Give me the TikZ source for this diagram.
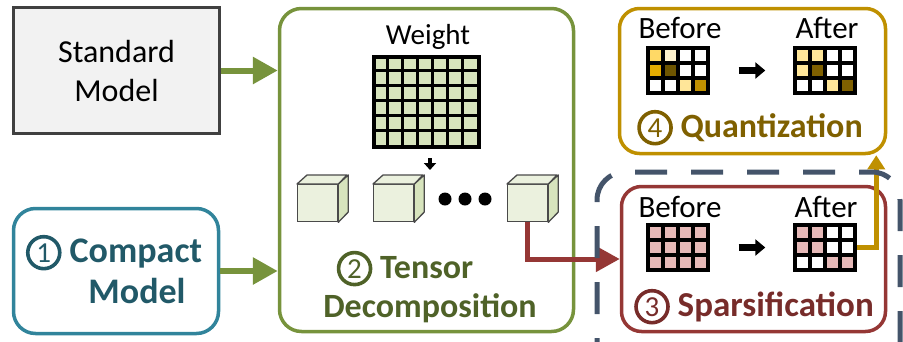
\documentclass[tikz,border=0pt]{standalone}
\usepackage{fontspec}
\setmainfont{Carlito}
\usetikzlibrary{arrows.meta,calc}

% palette
\definecolor{stdfill}{HTML}{F2F2F2}
\definecolor{stdline}{HTML}{404040}
\definecolor{grn}{HTML}{77933C}
\definecolor{grnd}{HTML}{4F6228}
\definecolor{wfill}{HTML}{D7E4BD}
\definecolor{cfront}{HTML}{EBF1DE}
\definecolor{cline}{HTML}{4A4A4A}
\definecolor{teal}{HTML}{31849B}
\definecolor{teald}{HTML}{215968}
\definecolor{gold}{HTML}{BF9000}
\definecolor{goldd}{HTML}{7F6000}
\definecolor{brick}{HTML}{953735}
\definecolor{brickd}{HTML}{772C2A}
\definecolor{navy}{HTML}{44546A}
\definecolor{pnk}{HTML}{E6B9B8}
\definecolor{qa}{HTML}{FFD966}
\definecolor{qb}{HTML}{FFF2CC}
\definecolor{qc}{HTML}{FFE699}
\definecolor{qd}{HTML}{E5AC00}
\definecolor{qe}{HTML}{6E5500}
\definecolor{qf}{HTML}{BF9000}
\definecolor{qg}{HTML}{7F6000}

% circled step number
\newcommand\cnum[2]{\tikz[baseline=(cn#2.base)]\node[circle,draw=#1,line width=3.6pt,
  inner sep=0pt,minimum size=32pt,anchor=center,text=#1,
  font=\mdseries\fontsize{29}{29}\selectfont] (cn#2) {#2};}

% 4x3 matrix of coloured cells, 15pt cells, top-left corner at (#2,#3)
\newcommand\cellgrid[4]{%
  \foreach \c [count=\k from 0] in {#4} {
    \pgfmathtruncatemacro\cx{mod(\k,4)}
    \pgfmathtruncatemacro\cy{div(\k,4)}
    \fill[\c] (#2+\cx*15,#3+\cy*15) rectangle ++(15,15);
  }
  \foreach \i in {1,2,3} \draw[gline] (#2+\i*15,#3) -- ++(0,45);
  \foreach \j in {1,2} \draw[gline] (#2,#3+\j*15) -- ++(60,0);
  \node[draw,line width=3.4pt,minimum width=60pt,minimum height=45pt,inner sep=0pt]
    (#1) at (#2+30,#3+22.5) {};
}

\begin{document}
\begin{tikzpicture}[x=1pt,y=-1pt,
  gline/.style={line width=3.4pt,black},
  txt/.style={anchor=base,inner sep=0pt},
  regtxt/.style={txt,font=\fontsize{31}{37}\selectfont},
  boldtxt/.style={txt,font=\bfseries\fontsize{34}{40}\selectfont},
  panel/.style={draw,line width=3.5pt,rounded corners=22pt,inner sep=0pt},
  garrow/.style={grn,line width=6pt,-{Triangle[length=25pt,width=26pt]}},
  barrow/.style={black,line width=6.5pt,-{Triangle[length=10pt,width=16pt]}},
  frontface/.style={draw=cline,line width=1.3pt,fill=cfront,minimum width=40pt,
    minimum height=37pt,inner sep=0pt,anchor=north west},
  cubeline/.style={draw=cline,line width=1.3pt,line join=round}]
\useasboundingbox (0,0) rectangle (903,341);
\clip (0,0) rectangle (903,341);

% ---------- left column ----------
\node[draw=stdline,line width=3.5pt,fill=stdfill,minimum width=206pt,minimum height=126pt,
  align=center,font=\fontsize{32}{39}\selectfont] (std) at (116.5,70.5) {Standard\\Model};

\node[panel,draw=teal,minimum width=205pt,minimum height=125pt] (cmp) at (116,271) {};
\node[boldtxt,text=teald,font=\bfseries\fontsize{36}{42}\selectfont] (cmpa) at (114,262) {\cnum{teald}{1} Compact};
\node[boldtxt,text=teald,font=\bfseries\fontsize{36}{42}\selectfont] (cmpb) at (137,303) {Model};

% ---------- tensor decomposition ----------
\node[panel,draw=grn,minimum width=294pt,minimum height=323pt] (ten) at (426.5,170) {};
\node[regtxt,font=\fontsize{29}{35}\selectfont] (wtxt) at (428,44) {Weight};
\node[draw,line width=3.4pt,fill=wfill,minimum width=105pt,minimum height=90pt,inner sep=0pt]
  (wg) at (426.5,102) {};
\foreach \i in {1,...,6} \draw[gline] ($(wg.north west)+(\i*15,0)$) -- ++(0,90);
\foreach \j in {1,...,5} \draw[gline] ($(wg.north west)+(0,\j*15)$) -- ++(105,0);
\coordinate (wa1) at (430,158);
\coordinate (wa2) at (430,170);
\draw[black,line width=4.5pt,-{Triangle[length=7pt,width=12pt]}] (wa1) -- (wa2);

\foreach \n/\x in {c1/297,c2/373,c3/507} {
  \node[frontface] (\n) at (\x,184) {};
  \draw[cubeline,fill=wfill] (\n.north east) -- ++(10,-9) -- ++(0,37) -- (\n.south east) -- cycle;
  \draw[cubeline,fill=cfront] (\n.north west) -- ++(10,-9) -- ++(40,0) -- (\n.north east) -- cycle;
}
\foreach \x in {445,465,485} \fill[black] (\x,199) circle[radius=6.5pt];

\node[boldtxt,text=grnd] (tena) at (405,278) {\cnum{grnd}{2} Tensor};
\node[boldtxt,text=grnd] (tenb) at (430,317) {Decomposition};

% ---------- quantization ----------
\node[panel,draw=gold,rounded corners=20pt,minimum width=266pt,minimum height=145pt] (qnt) at (752.5,81) {};
\node[regtxt] (qbt) at (680,38) {Before};
\node[regtxt] (qat) at (827,38) {After};
\cellgrid{qgb}{648}{48}{qa,qb,white,white,qd,qe,white,white,white,white,qc,qf}
\cellgrid{qga}{795}{48}{qc,qc,white,white,qc,qg,white,white,white,white,qc,qg}
\draw[barrow] ([xshift=29pt]qgb.east) -- ([xshift=-28pt]qga.west);
\node[boldtxt,text=goldd] (qtxt) at (750,137) {\cnum{goldd}{4} Quantization};

% ---------- sparsification ----------
\node[panel,draw=brick,rounded corners=20pt,minimum width=264pt,minimum height=145pt] (spa) at (753.5,259) {};
\node[regtxt] (sbt) at (680,217) {Before};
\node[regtxt] (sat) at (826,217) {After};
\cellgrid{sgb}{648}{225}{pnk,pnk,pnk,pnk,pnk,pnk,pnk,pnk,pnk,pnk,pnk,pnk}
\cellgrid{sga}{795}{225}{pnk,pnk,white,white,pnk,pnk,white,white,white,white,pnk,pnk}
\draw[barrow] ([xshift=29pt]sgb.east) -- ([xshift=-28pt]sga.west);
\node[boldtxt,text=brickd,font=\bfseries\fontsize{35}{41}\selectfont] (stxt) at (754,316) {\cnum{brickd}{3} Sparsification};

% ---------- connectors ----------
\draw[garrow] (std.east) -- (std.east -| ten.west);
\draw[garrow] (cmp.east) -- (cmp.east -| ten.west);
\draw[brick,line width=5pt,-{Triangle[length=24pt,width=25pt]}] (c3.south) |- (spa.west);
\draw[gold,line width=4.5pt,-{Triangle[length=14pt,width=17pt]}]
  (sga.east) -| ([xshift=-11pt]qnt.south east);

% ---------- dashed grouping outline ----------
\coordinate (dstart) at (635,172);
\draw[navy,line width=5pt,dash pattern=on 32pt off 24pt,rounded corners=28pt]
  (dstart) -- (900,172) -- (900,400);
\draw[navy,line width=5pt,dash pattern=on 32pt off 24pt,dash phase=32pt,rounded corners=28pt]
  (dstart) -- (597,172) -- (597,400);
\end{tikzpicture}
\end{document}
